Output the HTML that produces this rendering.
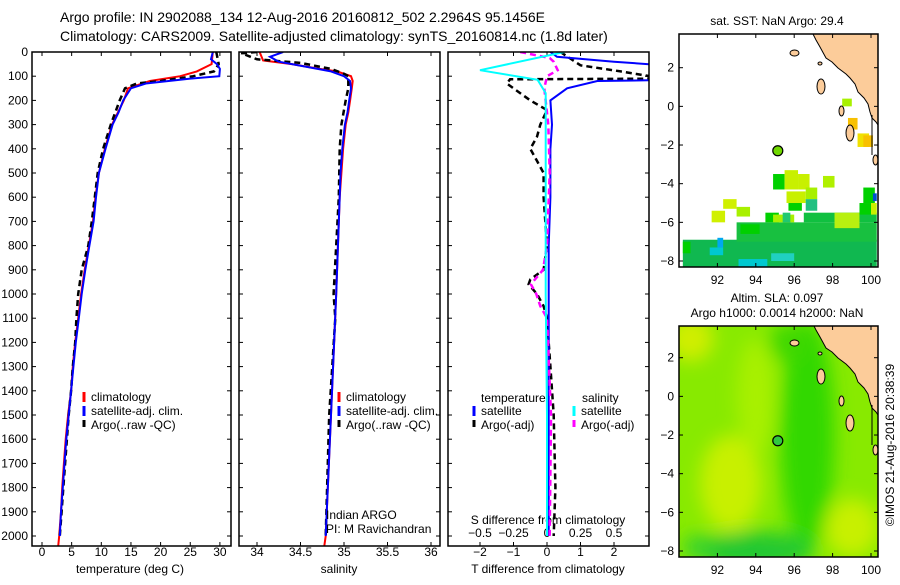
<!DOCTYPE html>
<html><head><meta charset="utf-8"><style>
body{margin:0;background:#fff;}
svg text{font-family:"Liberation Sans",sans-serif;fill:#000;}
</style></head><body>
<svg id="c" width="900" height="580" xmlns="http://www.w3.org/2000/svg">
<defs>
<filter id="blur" x="-50%" y="-50%" width="200%" height="200%"><feGaussianBlur stdDeviation="9"/></filter>
<clipPath id="cp1"><rect x="32" y="52" width="199" height="494"/></clipPath>
<clipPath id="cp2"><rect x="239" y="52" width="201" height="494"/></clipPath>
<clipPath id="cp3"><rect x="448" y="52" width="201" height="494"/></clipPath>
<clipPath id="cm1"><rect x="679" y="34" width="199" height="233"/></clipPath>
<clipPath id="cm2"><rect x="679" y="326" width="199" height="231"/></clipPath>
</defs>
<text x="60" y="22" font-size="14">Argo profile: IN 2902088_134 12-Aug-2016 20160812_502 2.2964S 95.1456E</text>
<text x="60" y="41" font-size="14">Climatology: CARS2009. Satellite-adjusted climatology: synTS_20160814.nc (1.8d later)</text>
<text x="777" y="25" font-size="12" text-anchor="middle">sat. SST: NaN Argo: 29.4</text>
<text x="777" y="302" font-size="12" text-anchor="middle">Altim. SLA: 0.097</text>
<text x="777" y="317" font-size="12" text-anchor="middle">Argo h1000: 0.0014 h2000: NaN</text>
<text transform="translate(894,445) rotate(-90)" font-size="12" text-anchor="middle">©IMOS 21-Aug-2016 20:38:39</text>
<g id="g"></g>
</svg>
<script>
// ---------- data ----------
const depthTicks=[0,100,200,300,400,500,600,700,800,900,1000,1100,1200,1300,1400,1500,1600,1700,1800,1900,2000];
const tempTicks=[0,5,10,15,20,25,30];
const salTicks=[34,34.5,35,35.5,36];
const salTickLabels=["34","34.5","35","35.5","36"];
const tdiffTicks=[-2,-1,0,1,2];
const sdiffTicks=[-0.5,-0.25,0,0.25,0.5];
const sdiffTickLabels=["-0.5","-0.25","0","0.25","0.5"];
const lonTicks=[92,94,96,98,100];
const latTicks=[2,0,-2,-4,-6,-8];

const climDepth=[0,50,80,100,120,150,200,250,300,400,500,600,700,800,900,1000,1100,1200,1300,1400,1500,1600,1700,1800,1900,2000,2050];
const climTemp=[28.8,28.6,26.1,23.3,18.2,14.5,13.8,12.8,11.8,10.6,9.6,9.0,8.6,7.9,7.2,6.6,6.1,5.6,5.2,4.9,4.4,4.0,3.7,3.4,3.2,2.9,2.7];
const satTempDepth=[0,30,50,70,100,110,130,150,200,250,300,400,500,600,700,800,900,1000,1100,1200,1300,1400,1500,1600,1700,1800,1900,2000];
const satTemp=[28.8,28.5,29.5,30.0,29.9,25.0,17.5,15.0,13.7,12.9,11.9,10.7,9.6,9.1,8.7,8.0,7.3,6.7,6.2,5.7,5.3,4.9,4.5,4.1,3.8,3.5,3.2,3.0];
const argoDepth=[0,50,80,100,120,130,150,200,300,400,500,600,700,800,900,1000,1100,1200,1300,1400,1500,1600,1700,1800,1900,2000];
const argoTemp=[29.4,29.8,29.0,25.5,20.0,16.0,14.0,13.1,11.6,10.3,9.4,8.9,8.4,7.8,6.7,6.1,5.8,5.6,5.2,4.9,4.5,4.2,3.9,3.6,3.3,3.0];

const climSalDepth=[0,35,50,70,80,100,120,150,200,250,300,400,500,600,1000,1500,2000,2050];
const climSal=[34.03,34.07,34.4,34.72,34.92,35.08,35.1,35.09,35.07,35.05,35.02,34.99,34.97,34.95,34.91,34.85,34.79,34.77];
const satSalDepth=[0,20,40,60,80,100,120,150,200,250,300,400,500,600,1000,1500,2000];
const satSal=[34.3,34.15,34.25,34.55,34.85,35.0,35.07,35.08,35.06,35.04,35.01,34.98,34.96,34.95,34.91,34.85,34.79];
const argoSalDepth=[0,5,30,45,70,90,100,150,200,300,400,600,1000,1100,1500,2000];
const argoSal=[34.0,33.82,34.0,34.5,34.85,35.0,35.05,35.05,35.02,34.97,34.95,34.94,34.88,34.9,34.83,34.79];

const tdSatDepth=[0,20,40,60,100,115,120,150,200,300,400,600,800,1000,1500,2000];
const tdSat=[0.1,0.3,2.0,4,4,4,1.5,0.6,0.1,0.15,0.1,0.1,0.05,0.05,0.05,0.05];
const tdArgoDepth=[0,55,80,110,113,130,200,240,300,350,400,450,500,600,700,800,900,940,960,1000,1050,1100,1300,1500,1800,2000];
const tdArgo=[0.4,1.0,2.2,3.5,-1.1,-1.2,-0.5,0,-0.2,-0.3,-0.5,-0.3,-0.1,-0.1,-0.05,0,-0.1,-0.5,-0.55,-0.3,-0.1,0,0.1,0.2,0.25,0.2];
const sdSatDepth=[0,75,115,170,300,600,1000,1500,2000];
const sdSat=[0.13,-0.5,-0.07,-0.01,-0.01,-0.01,-0.01,0,0];
const sdArgoDepth=[0,25,40,75,100,150,300,500,800,900,960,1000,1050,1100,1500,2000];
const sdArgo=[-0.2,0.02,0.05,0.08,0.0,-0.02,0.01,0.02,0.0,-0.03,-0.12,-0.08,-0.05,0.0,0.03,0.02];

// SST cells: lon, lat, width(deg), height(deg), color
const sstCells=[
[90.2,-8.3,10.1,1.4,"#10b850"],[93.0,-7.0,7.3,1.0,"#18c040"],[96.5,-6.0,3.8,0.5,"#10c040"],
[94.5,-6.0,0.7,0.5,"#00d000"],[94.9,-6.0,1.1,0.4,"#a8f000"],[95.4,-6.0,0.4,0.5,"#20c870"],
[98.1,-6.3,1.3,0.8,"#b8f010"],[99.4,-5.6,0.6,0.6,"#00d000"],[100.0,-5.6,0.3,0.6,"#c8f000"],
[99.6,-5.0,0.6,0.8,"#00d000"],[100.1,-4.9,0.2,0.4,"#0050d0"],
[91.7,-6.0,0.7,0.6,"#d0f000"],[92.3,-5.3,0.7,0.5,"#d0f000"],[93.0,-5.7,0.7,0.5,"#a8f000"],
[94.9,-4.3,0.6,0.8,"#00d000"],[95.5,-4.3,0.7,1.0,"#c8f000"],[96.2,-4.3,0.6,0.8,"#c8f000"],
[95.6,-5.0,1.0,0.6,"#c8f000"],[96.6,-4.8,0.6,0.6,"#a8f000"],[96.6,-5.4,0.6,0.6,"#20c080"],
[97.5,-4.2,0.6,0.6,"#b0f000"],[95.7,-5.4,0.7,0.4,"#00d000"],
[91.6,-7.7,0.7,0.4,"#00c8d0"],[93.1,-8.3,1.5,0.4,"#00c8d0"],[94.8,-8.0,1.2,0.4,"#20d0c0"],
[90.2,-7.6,0.4,0.6,"#00d000"],[92.0,-7.3,0.3,0.5,"#00a8f0"],[93.2,-6.6,1.0,0.5,"#00d000"],
[98.8,-1.2,0.5,0.6,"#f8c000"],[99.3,-2.1,0.6,0.7,"#f0e000"],[99.6,-2.1,0.5,0.6,"#f8c000"],
[98.5,0.0,0.5,0.4,"#a8f000"]
];
// SLA field blobs: lon, lat, rx(deg), ry(deg), color
const slaBlobs=[
[96.7,-2,1.4,6,"#30d800"],[94,-8,3,1,"#20c830"],[92.7,-4.5,1.6,2.5,"#c8f000"],
[90.6,3,1.2,1.2,"#d0ee00"],[99,-6.8,1.4,1.5,"#c8f000"],[94,0,1,3,"#a8f000"],
[95.7,2.8,1,1,"#40d800"],[91,-7.8,0.8,0.6,"#30d030"]
];
// Argo float position
const argoLon=95.1456, argoLat=-2.2964;

// ---------- helpers ----------
const NS="http://www.w3.org/2000/svg";
const G=document.getElementById('g');
function el(tag,attrs,parent){const e=document.createElementNS(NS,tag);for(const k in attrs)e.setAttribute(k,attrs[k]);(parent||G).appendChild(e);return e;}
const dY=d=>52+d*0.242;
const tX=t=>42+t*5.93;
const sX=s=>257+(s-34)*87;
const tdX=v=>547+v*33.5;
const sdX=v=>547+v*134;
const lonX=l=>679+(l-90)*19.2;
const latY1=l=>67.7+(2-l)*19.33;
const latY2=l=>357.7+(2-l)*19.33;

function line(xs,ds,fx,color,dash,clip,name,w){
  const p=xs.map((v,i)=>fx(v).toFixed(1)+","+dY(ds[i]).toFixed(1)).join(" ");
  const e=el('polyline',{points:p,fill:"none",stroke:color,"stroke-width":w||2,"clip-path":"url(#"+clip+")"});
  if(dash)e.setAttribute('stroke-dasharray',dash);
  
  
}
function frame(x,y,w,h,name){
  const e=el('rect',{x:x,y:y,width:w,height:h,fill:"none",stroke:"#000","stroke-width":1.5});
  
  
}
function text(x,y,s,opts,name){
  const e=el('text',Object.assign({x:x,y:y,"font-size":12},opts||{}));e.textContent=s;
  
  
  return e;
}
function tick(x1,y1,x2,y2){el('line',{x1:x1,y1:y1,x2:x2,y2:y2,stroke:"#000","stroke-width":1});}

// depth axis
depthTicks.forEach(d=>{
  text(28,dY(d)+4,String(d),{"text-anchor":"end"},'depth-tick-label');
  [32,239,448].forEach(x0=>{tick(x0,dY(d),x0+4,dY(d));});
  tick(227,dY(d),231,dY(d));tick(436,dY(d),440,dY(d));tick(645,dY(d),649,dY(d));
});
// panel 1
tempTicks.forEach(t=>{text(tX(t),556,String(t),{"text-anchor":"middle"},'temp-tick-label');tick(tX(t),546,tX(t),542);tick(tX(t),52,tX(t),56);});
text(130,573,"temperature (deg C)",{"text-anchor":"middle"},'temp-axis-title');
line(climTemp,climDepth,tX,"#f00",null,"cp1",'temp-climatology-line');
line(argoTemp,argoDepth,tX,"#000","6,4","cp1",'temp-argo-line',2.5);
line(satTemp,satTempDepth,tX,"#00f",null,"cp1",'temp-satellite-line');
frame(32,52,199,494,'temp-panel-frame');
// panel 2
salTicks.forEach((s,i)=>{text(sX(s),556,salTickLabels[i],{"text-anchor":"middle"},'sal-tick-label');tick(sX(s),546,sX(s),542);tick(sX(s),52,sX(s),56);});
text(339,573,"salinity",{"text-anchor":"middle"},'sal-axis-title');
line(climSal,climSalDepth,sX,"#f00",null,"cp2",'sal-climatology-line');
line(argoSal,argoSalDepth,sX,"#000","6,4","cp2",'sal-argo-line',2.5);
line(satSal,satSalDepth,sX,"#00f",null,"cp2",'sal-satellite-line');
frame(239,52,201,494,'sal-panel-frame');
text(326,519,"Indian ARGO",{},'pi-label-1');
text(326,533,"PI: M Ravichandran",{},'pi-label-2');
// panel 3
tdiffTicks.forEach(v=>{text(tdX(v),556,(v<0?"\u2212":"")+Math.abs(v),{"text-anchor":"middle"},'tdiff-tick-label');tick(tdX(v),546,tdX(v),542);tick(tdX(v),52,tdX(v),56);});
sdiffTicks.forEach((v,i)=>{text(sdX(v),537,sdiffTickLabels[i].replace("-","\u2212"),{"text-anchor":"middle"},'sdiff-tick-label');});
text(548,524,"S difference from climatology",{"text-anchor":"middle"},'sdiff-axis-title');
text(548,573,"T difference from climatology",{"text-anchor":"middle"},'tdiff-axis-title');
line(tdArgo,tdArgoDepth,tdX,"#000","6,4","cp3",'tdiff-argo-line',2.5);
line(tdSat,tdSatDepth,tdX,"#00f",null,"cp3",'tdiff-satellite-line');
line(sdArgo,sdArgoDepth,sdX,"#f0f","6,4","cp3",'sdiff-argo-line',2.5);
line(sdSat,sdSatDepth,sdX,"#0ff",null,"cp3",'sdiff-satellite-line');
frame(448,52,201,494,'diff-panel-frame');

// legends
function leg(x,y,color,label,name,dash){
  const e=el('line',{x1:x,y1:y-6,x2:x,y2:y+4,stroke:color,"stroke-width":3});
  if(dash)e.setAttribute('stroke-dasharray','7,3');
  text(x+7,y+3,label,{},name);
}
[[84,"temp"],[339,"sal"]].forEach(([x,p])=>{
  leg(x,398,"#f00","climatology",p+'-legend-climatology');
  leg(x,412,"#00f","satellite-adj. clim.",p+'-legend-satellite');
  leg(x,426,"#000","Argo(..raw -QC)",p+'-legend-argo',1);
});
text(481,402,"temperature",{},'diff-legend-temp-heading');
text(582,402,"salinity",{},'diff-legend-sal-heading');
leg(474,412,"#00f","satellite",'diff-legend-temp-satellite');
leg(474,426,"#000","Argo(-adj)",'diff-legend-temp-argo',1);
leg(574,412,"#0ff","satellite",'diff-legend-sal-satellite');
leg(574,426,"#f0f","Argo(-adj)",'diff-legend-sal-argo',1);

// maps
function land(dy,clip,name){
  const g=el('g',{"clip-path":"url(#"+clip+")"});
  const pts=[[813,34],[816,40],[820,47],[826,58],[832,62],[838,68],[846,74],[850,78],[855,84],[858,92],[864,98],[868,104],[870,112],[872,118],[876,122],[878,125],[878,20],[813,20]];
  const e=el('polygon',{points:pts.map(p=>p[0]+","+(p[1]+dy)).join(" "),fill:"#fccc9a",stroke:"#000","stroke-width":1},g);
  
  
  [[790,50,9,6],[817,79,8,15],[839,106,5,10],[846,125,8,16],[873,155,5,10],[818,62,4,3]].forEach(r=>{
    el('ellipse',{cx:r[0]+r[2]/2,cy:r[1]+r[3]/2+dy,rx:r[2]/2,ry:r[3]/2,fill:"#fccc9a",stroke:"#000","stroke-width":1},g);
  });
  el('line',{x1:872,y1:115+dy,x2:872,y2:155+dy,stroke:"#000"},g);
}
function mapAxes(y0,h,latY,pfx){
  lonTicks.forEach(l=>{text(lonX(l),y0+h+17,String(l),{"text-anchor":"middle"},pfx+'-lon-label');tick(lonX(l),y0+h,lonX(l),y0+h-4);tick(lonX(l),y0,lonX(l),y0+4);});
  latTicks.forEach(l=>{text(674,latY(l)+4,(l<0?"\u2212":"")+Math.abs(l),{"text-anchor":"end"},pfx+'-lat-label');tick(679,latY(l),683,latY(l));tick(874,latY(l),878,latY(l));});
}
// map 1 SST
const m1=el('g',{"clip-path":"url(#cm1)"});
sstCells.forEach(c=>{
  const r=el('rect',{x:lonX(c[0]),y:latY1(c[1]+c[3]),width:c[2]*19.2,height:c[3]*19.33,fill:c[4]},m1);
  
  
});
land(0,"cm1",'sst-map-land');
const a1=el('circle',{cx:lonX(argoLon),cy:latY1(argoLat),r:5,fill:"#70d800",stroke:"#000","stroke-width":1.2});


frame(679,34,199,233,'sst-map-frame');
mapAxes(34,233,latY1,'sst-map');
// map 2 SLA
const m2=el('g',{"clip-path":"url(#cm2)"});
el('rect',{x:679,y:326,width:199,height:231,fill:"#88ea00"},m2);
const bg=el('g',{filter:"url(#blur)"},m2);
slaBlobs.forEach(b=>{
  const e=el('ellipse',{cx:lonX(b[0]),cy:latY2(b[1]),rx:b[2]*19.2,ry:b[3]*19.33,fill:b[4]},bg);
  
  
});
land(290,"cm2",'sla-map-land');
const a2=el('circle',{cx:lonX(argoLon),cy:latY2(argoLat),r:5,fill:"#30c840",stroke:"#000","stroke-width":1.2});


frame(679,326,199,231,'sla-map-frame');
mapAxes(326,231,latY2,'sla-map');
</script>
</body></html>
